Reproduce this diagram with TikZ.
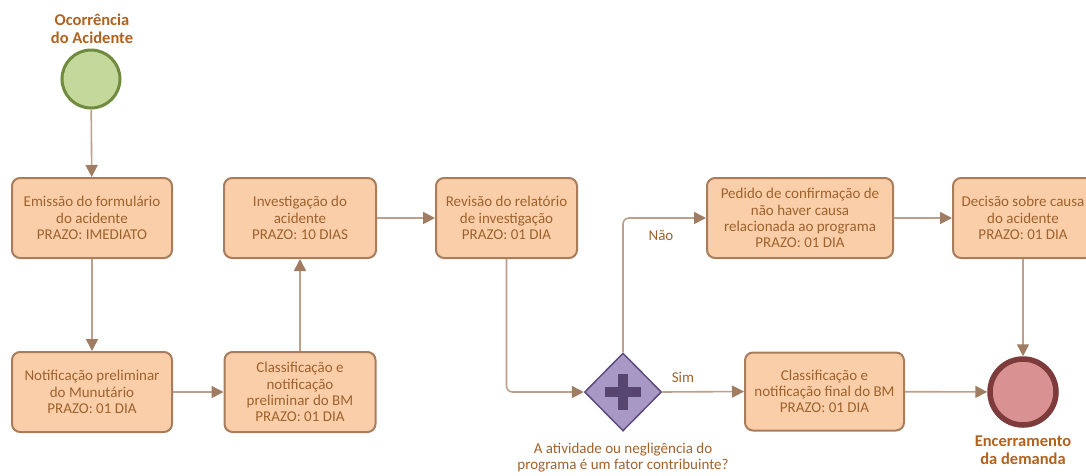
\documentclass[tikz,border=0pt]{standalone}
\usepackage{fontspec}
\setmainfont{Carlito}
\usetikzlibrary{shapes.geometric,arrows.meta}
\definecolor{boxfill}{HTML}{F9CEA9}
\definecolor{boxdraw}{HTML}{A97C5C}
\definecolor{boxtext}{HTML}{A0622C}
\definecolor{conn}{HTML}{BDA08C}
\definecolor{tip}{HTML}{A07D62}
\definecolor{lbl}{HTML}{B0621E}
\definecolor{startfill}{HTML}{C5D89C}
\definecolor{startdraw}{HTML}{6F8B3E}
\definecolor{gwfill}{HTML}{A898C6}
\definecolor{gwdraw}{HTML}{5D4C7C}
\definecolor{gwplus}{HTML}{574770}
\definecolor{endfill}{HTML}{D99191}
\definecolor{enddraw}{HTML}{7E3B3B}
\tikzset{
  task/.style={draw=boxdraw, fill=boxfill, line width=2pt, rounded corners=8pt,
    minimum height=80pt, align=center, text=boxtext,
    font=\fontsize{15}{16.3}\selectfont, inner sep=0pt},
  flow/.style={draw=conn, line width=1.6pt, -{Triangle[length=12pt,width=12pt,color=tip]}},
  evlabel/.style={align=center, text=lbl, font=\bfseries\fontsize{16.5}{18}\selectfont},
  plainlabel/.style={align=center, text=boxtext, font=\fontsize{15}{16}\selectfont}
}
\begin{document}
\begin{tikzpicture}[x=1pt,y=-1pt]
\useasboundingbox (0,0) rectangle (1086,475);
% start event
\node[circle, draw=startdraw, fill=startfill, line width=3pt, minimum size=58pt, inner sep=0pt] (start) at (91,79) {};
\node[evlabel] (startlbl) at (92,29) {Ocorrência\\do Acidente};
% tasks
\node[task, minimum width=160pt] (emis) at (92,218) {Emissão do formulário\\do acidente\\PRAZO: IMEDIATO};
\node[task, minimum width=152pt] (inv) at (300,218) {Investigação do\\acidente\\PRAZO: 10 DIAS};
\node[task, minimum width=160pt] (notif) at (92,392) {Notificação preliminar\\do Munutário\\PRAZO: 01 DIA};
\node[task, minimum width=151pt] (classp) at (300,392) {Classificação e\\notificação\\preliminar do BM\\PRAZO: 01 DIA};
\node[task, minimum width=141pt] (rev) at (506.5,218) {Revisão do relatório\\de investigação\\PRAZO: 01 DIA};
\node[task, minimum width=186pt] (ped) at (800,218) {Pedido de confirmação de\\não haver causa\\relacionada ao programa\\PRAZO: 01 DIA};
\node[task, minimum width=140pt] (dec) at (1023,218) {Decisão sobre causa\\do acidente\\PRAZO: 01 DIA};
\node[task, minimum width=159pt, minimum height=78pt] (fin) at (824.5,391.5) {Classificação e\\notificação final do BM\\PRAZO: 01 DIA};
% gateway
\node[diamond, draw=gwdraw, fill=gwfill, line width=1.5pt, minimum width=77pt, minimum height=78pt, inner sep=0pt] (gw) at (623,392) {};
\fill[gwplus] (605,387) rectangle (641,397);
\fill[gwplus] (618,374) rectangle (628,410);
\node[plainlabel] (gwlbl) at (623,458) {A atividade ou negligência do\\programa é um fator contribuinte?};
% end event
\node[circle, draw=enddraw, fill=endfill, line width=5.5pt, minimum size=66pt, inner sep=0pt] (end) at (1023,392) {};
\node[evlabel] (endlbl) at (1023,450) {Encerramento\\da demanda};
% flows
\draw[flow] (start) -- (emis);
\draw[flow] (emis) -- (notif);
\draw[flow] (notif) -- (classp);
\draw[flow] (classp) -- (inv);
\draw[flow] (inv) -- (rev);
\draw[flow, rounded corners=6pt] (rev.south) |- (gw.west);
\draw[flow, rounded corners=6pt] (gw.north) |- (ped.west);
\draw[flow] (ped) -- (dec);
\draw[flow] (dec) -- (end);
\draw[flow] (gw.east) -- (fin.west);
\draw[flow] (fin) -- (end);
\node[plainlabel] (nao) at (661,236) {Não};
\node[plainlabel] (sim) at (683,377) {Sim};
\end{tikzpicture}
\end{document}
